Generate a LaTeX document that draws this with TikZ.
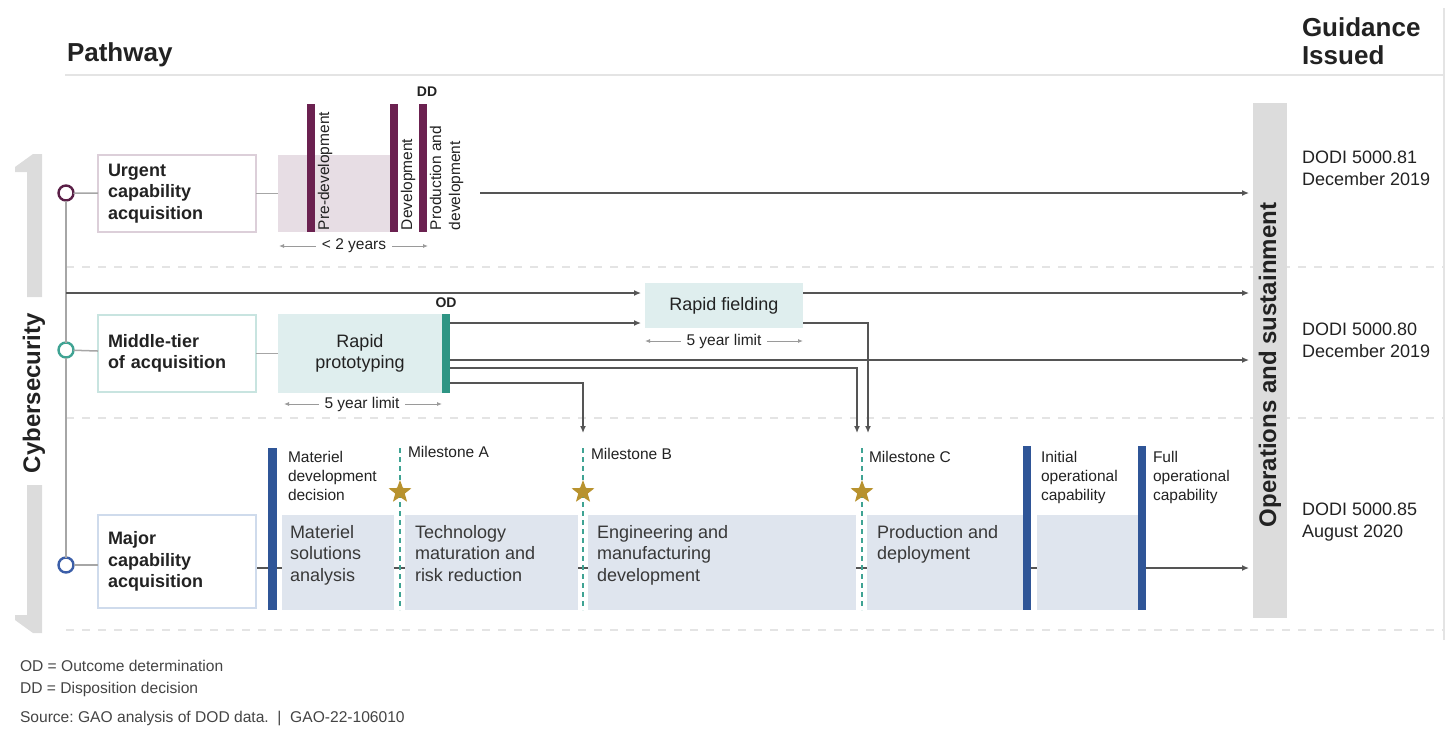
\documentclass[tikz,border=0pt]{standalone}
\usepackage{fontspec}
\setmainfont{Liberation Sans}
\usetikzlibrary{arrows.meta,shapes.geometric,calc}
\pgfdeclarelayer{back}
\pgfsetlayers{back,main}
\frenchspacing
\definecolor{ink}{HTML}{222222}
\definecolor{purp}{HTML}{6B2150}
\definecolor{purpc}{HTML}{5A1F47}
\definecolor{purpbox}{HTML}{DCCFD9}
\definecolor{purpfill}{HTML}{E7DDE4}
\definecolor{teal}{HTML}{2E9584}
\definecolor{tealc}{HTML}{3FA393}
\definecolor{tealbox}{HTML}{C8E4E0}
\definecolor{tealfill}{HTML}{DFEEEE}
\definecolor{blu}{HTML}{2F5597}
\definecolor{bluc}{HTML}{3B5EA8}
\definecolor{blubox}{HTML}{CFDBEC}
\definecolor{blufill}{HTML}{DFE5EE}
\definecolor{gold}{HTML}{B8922E}
\definecolor{osgray}{HTML}{DCDCDC}
\definecolor{rule}{HTML}{E4E4E4}
\definecolor{arrgray}{HTML}{555555}
\definecolor{treegray}{HTML}{A6A6A6}
\definecolor{dimgray}{HTML}{9A9A9A}
\definecolor{footink}{HTML}{444444}
\begin{document}
\begin{tikzpicture}[x=1pt,y=-1pt,
  every node/.style={inner sep=0pt, outer sep=0pt, text=ink},
  big/.style={font=\fontsize{26}{28}\selectfont\bfseries},
  rot/.style={font=\fontsize{24}{27}\selectfont\bfseries, rotate=90},
  lbl/.style={font=\fontsize{18}{21.5}\selectfont\bfseries, align=left},
  phtxt/.style={font=\fontsize{18}{21.5}\selectfont, align=left, anchor=north west, text=ink!90},
  small/.style={font=\fontsize{15.5}{19}\selectfont, align=left},
  doc/.style={font=\fontsize{18}{22}\selectfont, align=left, anchor=north west},
  foot/.style={font=\fontsize{15.6}{22}\selectfont, anchor=base west, text=footink},
  tag/.style={font=\fontsize{14}{16}\selectfont\bfseries},
  pbox/.style={anchor=north west, draw=#1, line width=1.5pt, minimum height=77pt, minimum width=158pt, text width=138pt, inner xsep=10pt},
  bar/.style={anchor=north west, fill=#1, minimum width=8pt},
  area/.style={anchor=north west, fill=#1},
  ring/.style={circle, draw=#1, line width=2.4pt, fill=white, minimum size=15pt},
  tree/.style={draw=treegray, line width=1.5pt},
  arr/.style={draw=arrgray, line width=1.3pt, -{Latex[length=7pt,width=6pt]}, shorten >=4pt},
  arrd/.style={draw=arrgray, line width=1.3pt, -{Latex[length=7pt,width=6pt]}},
  dim/.style={draw=dimgray, line width=0.9pt, -{Latex[length=5pt,width=4pt]}},
  sep/.style={draw=rule, line width=1.5pt, dash pattern=on 8pt off 8pt},
  mile/.style={draw=tealc, line width=2.6pt, dash pattern=on 5pt off 4pt},
  gstar/.style={star, star points=5, star point ratio=2.4, fill=gold, minimum size=24pt},
]
\useasboundingbox (0,0) rectangle (1450,732);

% header
\node[big, anchor=north west] (pw) at (67,43) {Pathway};
\node[big, anchor=north west, align=left] (gi) at (1302,18) {Guidance\\Issued};
\coordinate (h1) at (65,75); \coordinate (h2) at (1443,75);
\draw[draw=rule, line width=2pt] (h1) -- (h2);
\coordinate (v1) at (1444,8); \coordinate (v2) at (1444,640);
\draw[draw=rule, line width=2pt] (v1) -- (v2);

% separators
\coordinate (sa1) at (66,267); \coordinate (sa2) at (1443,267);
\coordinate (sb1) at (66,418); \coordinate (sb2) at (1443,418);
\coordinate (sc1) at (66,630); \coordinate (sc2) at (1443,630);
\draw[sep] (sa1) -- (sa2);
\draw[sep] (sb1) -- (sb2);
\draw[sep] (sc1) -- (sc2);

% cybersecurity bracket
\fill[osgray] (33,154) -- (42,154) -- (42,297) -- (27,297) -- (27,172) -- (15,172) -- (15,167) -- cycle;
\fill[osgray] (27,485) -- (42,485) -- (42,633) -- (33,633) -- (15,620) -- (15,615) -- (27,615) -- cycle;
\node[rot] (cyb) at (34,393) {Cybersecurity};

% tree
\node[ring=purpc] (cu) at (66,193) {};
\node[ring=tealc] (cm) at (66,350) {};
\node[ring=bluc] (cj) at (66,565) {};
\draw[tree] (cu) -- (cm);
\draw[tree] (cm) -- (cj);
\coordinate (split) at (66,293);

% pathway boxes
\node[pbox=purpbox, lbl] (ua) at (98,155) {Urgent\\capability\\acquisition};
\node[pbox=tealbox, lbl] (ma) at (98,315) {Middle-tier\\of acquisition};
\node[pbox=blubox, lbl, minimum height=93pt] (ja) at (98,515) {Major\\capability\\acquisition};
\draw[tree] (cu) -- (ua);
\draw[tree] (cm) -- (ma);
\draw[tree] (cj) -- (cj -| ja.west);

% operations and sustainment
\node[area=osgray, minimum width=34pt, minimum height=515pt] (os) at (1253,103) {};
\node[rot] (osl) at (1270,365) {Operations and sustainment};

% urgent row
\node[area=purpfill, minimum width=112pt, minimum height=77pt] (ush) at (278,155) {};
\draw[tree] (ua) -- (ush);
\node[bar=purp, minimum height=128pt] (pd) at (307,104) {};
\node[bar=purp, minimum height=128pt] (dv) at (390,104) {};
\node[bar=purp, minimum height=128pt] (pr) at (419,104) {};
\node[small, rotate=90, anchor=north west] (pdl) at (318,230) {Pre-development};
\node[small, rotate=90, anchor=north west] (dvl) at (401,230) {Development};
\node[small, rotate=90, anchor=north west, align=left] (prl) at (430,230) {Production and\\development};
\node[tag] (ddl) at (427,92) {DD};
\node[small] (ty) at (354,246) {< 2 years};
\coordinate (ty1) at (279,246); \coordinate (ty2) at (428,246);
\draw[dim] ([xshift=-6pt]ty.west) -- (ty1);
\draw[dim] ([xshift=6pt]ty.east) -- (ty2);
\coordinate (ua0) at (480,193);
\draw[arr] (ua0) -- (ua0 -| os.west);

% middle-tier row
\node[area=tealfill, minimum width=164pt, minimum height=79pt, font=\fontsize{18}{21.5}\selectfont, align=center] (rp) at (278,314) {Rapid\\prototyping};
\draw[tree] (ma) -- (rp);
\node[bar=teal, minimum height=79pt] (od) at (442,314) {};
\node[tag] (odl) at (446,303) {OD};
\node[area=tealfill, minimum width=158pt, minimum height=45pt, font=\fontsize{18}{21.5}\selectfont] (rf) at (645,283) {Rapid fielding};
\node[small] (fy1) at (362,404) {5 year limit};
\coordinate (fa1) at (284,404); \coordinate (fa2) at (442,404);
\draw[dim] ([xshift=-6pt]fy1.west) -- (fa1);
\draw[dim] ([xshift=6pt]fy1.east) -- (fa2);
\node[small] (fy2) at (724,341) {5 year limit};
\coordinate (fb1) at (645,341); \coordinate (fb2) at (803,341);
\draw[dim] ([xshift=-6pt]fy2.west) -- (fb1);
\draw[dim] ([xshift=6pt]fy2.east) -- (fb2);

\draw[arr] (split) -- (split -| rf.west);
\draw[arr] (split -| rf.east) -- (split -| os.west);
\coordinate (o1) at ($(od.north east)+(0,9)$);
\coordinate (o2) at ($(od.north east)+(0,46)$);
\coordinate (o3) at ($(od.north east)+(0,54)$);
\coordinate (o4) at ($(od.north east)+(0,69)$);
\coordinate (r1) at ($(rf.south east)+(0,-5)$);
\coordinate (mb) at (583,433);
\coordinate (mc) at (857,433);
\coordinate (mc2) at (868,433);
\draw[arr] (o1) -- (o1 -| rf.west);
\draw[arr] (o2) -- (o2 -| os.west);
\draw[arrd] (o3) -| (mc);
\draw[arrd] (o4) -| (mb);
\draw[arrd] (r1) -| (mc2);

% major row
\node[bar=blu, minimum width=9pt, minimum height=162pt] (mdd) at (268,448) {};
\node[area=blufill, minimum width=112pt, minimum height=95pt] (p1) at (282,515) {};
\node[area=blufill, minimum width=173pt, minimum height=95pt] (p2) at (405,515) {};
\node[area=blufill, minimum width=268pt, minimum height=95pt] (p3) at (588,515) {};
\node[area=blufill, minimum width=156pt, minimum height=95pt] (p4) at (867,515) {};
\node[bar=blu, minimum height=164pt] (ioc) at (1023,446) {};
\node[area=blufill, minimum width=101pt, minimum height=95pt] (p5) at (1037,515) {};
\node[bar=blu, minimum height=164pt] (foc) at (1138,446) {};
\coordinate (j0) at (256,568);
\begin{pgfonlayer}{back}
\draw[arr] (j0) -- (j0 -| os.west);
\end{pgfonlayer}

\node[phtxt] (p1t) at (290,525) {Materiel\\solutions\\analysis};
\node[phtxt] (p2t) at (415,525) {Technology\\maturation and\\risk reduction};
\node[phtxt] (p3t) at (597,525) {Engineering and\\manufacturing\\development};
\node[phtxt] (p4t) at (877,525) {Production and\\deployment};

\coordinate (mAt) at (400,448); \coordinate (mAb) at (400,610);
\coordinate (mBt) at (583,448); \coordinate (mBb) at (583,610);
\coordinate (mCt) at (862,448); \coordinate (mCb) at (862,610);
\draw[mile] (mAt) -- (mAb);
\draw[mile] (mBt) -- (mBb);
\draw[mile] (mCt) -- (mCb);
\node[gstar] (sA) at (400,492) {};
\node[gstar] (sB) at (583,492) {};
\node[gstar] (sC) at (862,492) {};

\node[small, anchor=north west] (mddl) at (288,451) {Materiel\\development\\decision};
\node[small, anchor=north west] (mAl) at (408,446) {Milestone A};
\node[small, anchor=north west] (mBl) at (591,448) {Milestone B};
\node[small, anchor=north west] (mCl) at (869,451) {Milestone C};
\node[small, anchor=north west] (iocl) at (1041,451) {Initial\\operational\\capability};
\node[small, anchor=north west] (focl) at (1153,451) {Full\\operational\\capability};

% guidance
\node[doc] (d1) at (1302,151) {DODI 5000.81\\December 2019};
\node[doc] (d2) at (1302,323) {DODI 5000.80\\December 2019};
\node[doc] (d3) at (1302,503) {DODI 5000.85\\August 2020};

% notes
\node[foot] (f1) at (20,671) {OD = Outcome determination};
\node[foot] (f2) at (20,693) {DD = Disposition decision};
\node[foot] (f3) at (20,722) {Source: GAO analysis of DOD data.\ \ |\ \ GAO-22-106010};
\end{tikzpicture}
\end{document}
